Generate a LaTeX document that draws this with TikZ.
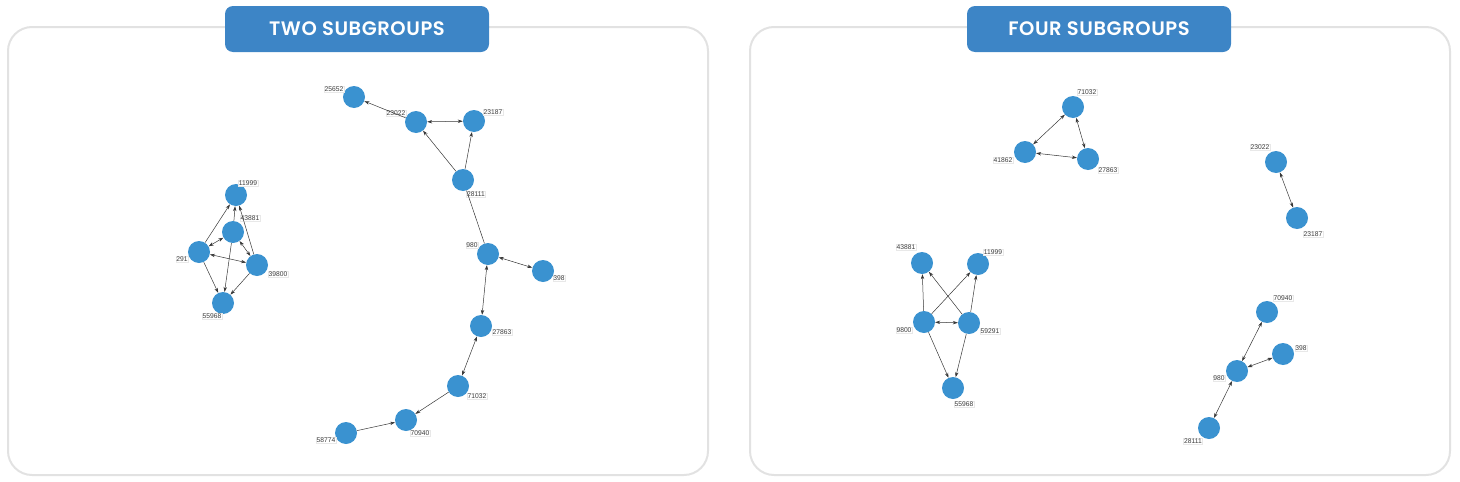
\documentclass[tikz,border=0pt]{standalone}
\usepackage{fontspec}
\setmainfont{Liberation Sans}
\newfontfamily\hdrfont{Poppins}[BoldFont={* SemiBold},LetterSpace=3]
\usetikzlibrary{arrows.meta}
\definecolor{vtxclr}{RGB}{58,146,208}
\definecolor{hdrfill}{RGB}{61,133,198}
\definecolor{panelbdr}{RGB}{226,226,226}
\definecolor{edgeclr}{RGB}{55,55,55}
\definecolor{lblclr}{RGB}{60,60,60}
\definecolor{lblbdr}{RGB}{232,232,232}
\tikzset{
  %% panel frame
  panel/.style={draw=panelbdr,line width=2pt,rounded corners=24pt},
  %% title banner
  ttl/.style={rectangle,rounded corners=8pt,fill=hdrfill,text=white,
    minimum width=264pt,minimum height=46pt,inner sep=0pt,
    font=\hdrfont\bfseries\fontsize{19.5}{21}\selectfont},
  %% graph vertex
  vtx/.style={circle,fill=vtxclr,draw=none,minimum size=22pt,inner sep=0pt},
  %% vertex id
  lbl/.style={font=\fontsize{6.7}{7}\selectfont,text=lblclr,fill=white,
    draw=lblbdr,line width=0.3pt,inner sep=0.6pt},
  %% arrows
  arr/.style={-{Stealth[length=5pt,width=3.4pt]},line width=0.5pt,color=edgeclr},
  barr/.style={{Stealth[length=5pt,width=3.4pt]}-{Stealth[length=5pt,width=3.4pt]},
    line width=0.5pt,color=edgeclr},
  lin/.style={line width=0.5pt,color=edgeclr},
}
\begin{document}
\begin{tikzpicture}[x=1pt,y=-1pt]
  \useasboundingbox (0,0) rectangle (1460,482);

  %% Panels
  \draw[panel] (8,27) rectangle (708,475);
  \draw[panel] (750,27) rectangle (1450,475);
  \node[ttl] (ltitle) at (357,29) {TWO SUBGROUPS};
  \node[ttl] (rtitle) at (1099,29) {FOUR SUBGROUPS};

  %% Left: small cluster
  \node[vtx] (a11999) at (236,195) {};
  \node[vtx] (a43881) at (233,232) {};
  \node[vtx] (a291)   at (199,252) {};
  \node[vtx] (a39800) at (257,265) {};
  \node[vtx] (a55968) at (223,303) {};

  %% Left: chain
  \node[vtx] (a25652) at (354,97)  {};
  \node[vtx] (a23022) at (416,122) {};
  \node[vtx] (a23187) at (474,121) {};
  \node[vtx] (a28111) at (463,180) {};
  \node[vtx] (a980)   at (488,254) {};
  \node[vtx] (a398)   at (543,271) {};
  \node[vtx] (a27863) at (481,326) {};
  \node[vtx] (a71032) at (458,386) {};
  \node[vtx] (a70940) at (406,420) {};
  \node[vtx] (a58774) at (346,433) {};

  %% Left labels
  \node[lbl] (la11999) at (248,183) {11999};
  \node[lbl] (la43881) at (250,218) {43881};
  \node[lbl] (la291)   at (182,259) {291};
  \node[lbl] (la39800) at (278,274) {39800};
  \node[lbl] (la55968) at (212,316) {55968};
  \node[lbl] (la25652) at (334,89)  {25652};
  \node[lbl] (la23022) at (396,113) {23022};
  \node[lbl] (la23187) at (493,112) {23187};
  \node[lbl] (la28111) at (476,194) {28111};
  \node[lbl] (la980)   at (472,245) {980};
  \node[lbl] (la398)   at (559,278) {398};
  \node[lbl] (la27863) at (502,332) {27863};
  \node[lbl] (la71032) at (477,396) {71032};
  \node[lbl] (la70940) at (420,433) {70940};
  \node[lbl] (la58774) at (326,440) {58774};

  %% Left cluster arrows
  \draw[arr]  (a291)--(a11999);
  \draw[barr] (a291)--(a43881);
  \draw[barr] (a291)--(a39800);
  \draw[arr]  (a291)--(a55968);
  \draw[arr]  (a43881)--(a11999);
  \draw[arr]  (a43881)--(a55968);
  \draw[arr]  (a39800)--(a11999);
  \draw[barr] (a39800)--(a43881);
  \draw[arr]  (a39800)--(a55968);

  %% Left chain arrows
  \draw[arr]  (a23022)--(a25652);
  \draw[barr] (a23022)--(a23187);
  \draw[arr]  (a28111)--(a23022);
  \draw[arr]  (a28111)--(a23187);
  \draw[lin]  (a28111)--(a980);
  \draw[barr] (a980)--(a398);
  \draw[barr] (a980)--(a27863);
  \draw[barr] (a27863)--(a71032);
  \draw[arr]  (a71032)--(a70940);
  \draw[arr]  (a58774)--(a70940);

  %% Right: four groups
  \node[vtx] (b71032) at (1073,107) {};
  \node[vtx] (b41862) at (1025,152) {};
  \node[vtx] (b27863) at (1088,159) {};
  \node[vtx] (b23022) at (1276,162) {};
  \node[vtx] (b23187) at (1297,218) {};
  \node[vtx] (b43881) at (922,263)  {};
  \node[vtx] (b11999) at (978,264)  {};
  \node[vtx] (b9800)  at (924,322)  {};
  \node[vtx] (b59291) at (969,323)  {};
  \node[vtx] (b55968) at (953,388)  {};
  \node[vtx] (b70940) at (1267,312) {};
  \node[vtx] (b398)   at (1283,354) {};
  \node[vtx] (b980)   at (1237,371) {};
  \node[vtx] (b28111) at (1209,428) {};

  %% Right labels
  \node[lbl] (lb71032) at (1087,92)  {71032};
  \node[lbl] (lb41862) at (1003,160) {41862};
  \node[lbl] (lb27863) at (1108,170) {27863};
  \node[lbl] (lb23022) at (1260,147) {23022};
  \node[lbl] (lb23187) at (1313,234) {23187};
  \node[lbl] (lb43881) at (906,247)  {43881};
  \node[lbl] (lb11999) at (993,252)  {11999};
  \node[lbl] (lb9800)  at (904,330)  {9800};
  \node[lbl] (lb59291) at (990,331)  {59291};
  \node[lbl] (lb55968) at (964,404)  {55968};
  \node[lbl] (lb70940) at (1283,298) {70940};
  \node[lbl] (lb398)   at (1301,348) {398};
  \node[lbl] (lb980)   at (1219,378) {980};
  \node[lbl] (lb28111) at (1193,441) {28111};

  %% Right arrows
  \draw[barr] (b71032)--(b41862);
  \draw[barr] (b71032)--(b27863);
  \draw[barr] (b41862)--(b27863);
  \draw[barr] (b23022)--(b23187);
  \draw[arr]  (b9800)--(b43881);
  \draw[arr]  (b9800)--(b11999);
  \draw[barr] (b9800)--(b59291);
  \draw[arr]  (b9800)--(b55968);
  \draw[arr]  (b59291)--(b43881);
  \draw[arr]  (b59291)--(b11999);
  \draw[arr]  (b59291)--(b55968);
  \draw[barr] (b980)--(b70940);
  \draw[barr] (b980)--(b398);
  \draw[barr] (b980)--(b28111);

\end{tikzpicture}
\end{document}
